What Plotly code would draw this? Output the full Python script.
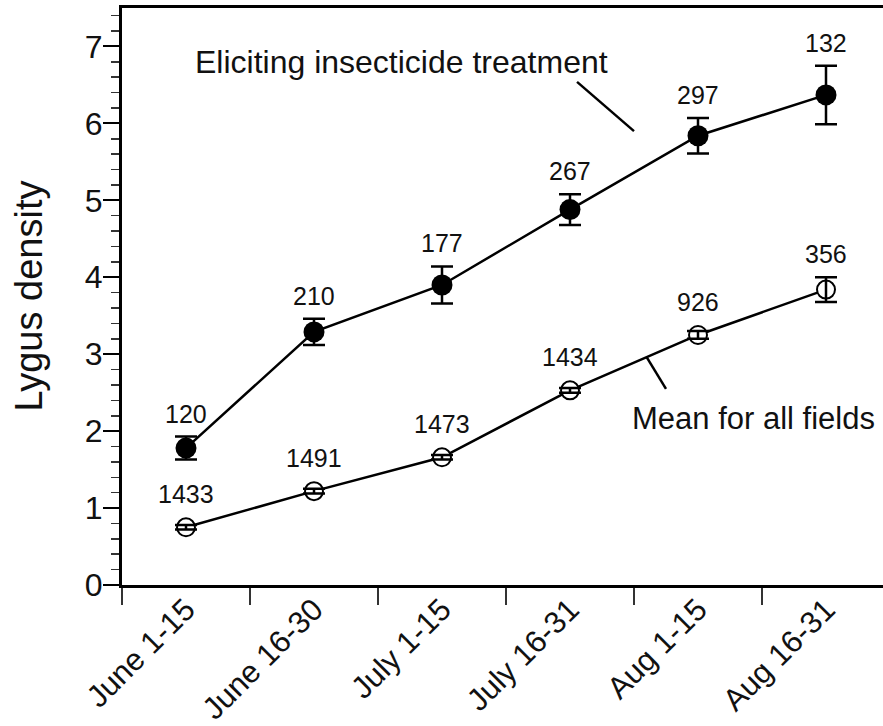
import plotly.graph_objects as go

periods = ["June 1-15", "June 16-30", "July 1-15", "July 16-31", "Aug 1-15", "Aug 16-31"]

elicit_mean = [1.78, 3.29, 3.90, 4.88, 5.84, 6.37]
elicit_err = [0.15, 0.17, 0.24, 0.20, 0.23, 0.38]
elicit_n = ["120", "210", "177", "267", "297", "132"]

all_mean = [0.75, 1.22, 1.66, 2.53, 3.25, 3.84]
all_err = [0.03, 0.03, 0.03, 0.03, 0.05, 0.16]
all_n = ["1433", "1491", "1473", "1434", "926", "356"]

FONT = "Liberation Sans, Arial, Helvetica, sans-serif"
W, H = 883, 726
ML, MR, MT, MB = 122, 0, 8, 141
YMAX = 7.5
px_per_unit = (H - MT - MB) / YMAX

fig = go.Figure()

# lines + markers
fig.add_trace(go.Scatter(
    x=periods, y=elicit_mean, mode="lines+markers",
    line=dict(color="black", width=2.5),
    marker=dict(symbol="circle", size=21, color="black", line=dict(color="black", width=0)),
    showlegend=False, hoverinfo="skip"))
fig.add_trace(go.Scatter(
    x=periods, y=all_mean, mode="lines+markers",
    line=dict(color="black", width=2.5),
    marker=dict(symbol="circle", size=18, color="white", line=dict(color="black", width=2)),
    showlegend=False, hoverinfo="skip"))

# error bars on top
for ys, es in ((elicit_mean, elicit_err), (all_mean, all_err)):
    fig.add_trace(go.Scatter(
        x=periods, y=ys, mode="markers",
        marker=dict(size=1, color="rgba(0,0,0,0)"),
        error_y=dict(type="data", array=es, visible=True, color="black",
                     thickness=2.5, width=11),
        showlegend=False, hoverinfo="skip"))

# sample size labels
for ys, es, ns, rad in ((elicit_mean, elicit_err, elicit_n, 10.5), (all_mean, all_err, all_n, 10)):
    for p, y, e, n in zip(periods, ys, es, ns):
        shift = max(e * px_per_unit, rad) + 23
        fig.add_annotation(x=p, y=y, text=n, showarrow=False, yshift=shift,
                           xanchor="center", yanchor="middle",
                           font=dict(family=FONT, size=25, color="#111"))

# series labels with pointer lines
fig.add_annotation(x=1.68, y=6.80, xref="x", yref="y", text="Eliciting insecticide treatment",
                   showarrow=False, xanchor="center", yanchor="middle",
                   font=dict(family=FONT, size=32, color="#111"))
fig.add_shape(type="line", x0=3.055, y0=6.54, x1=3.5, y1=5.90, xref="x", yref="y",
              line=dict(color="black", width=2.5))
fig.add_annotation(x=4.43, y=2.16, xref="x", yref="y", text="Mean for all fields",
                   showarrow=False, xanchor="center", yanchor="middle",
                   font=dict(family=FONT, size=31, color="#111"))
fig.add_shape(type="line", x0=3.6, y0=2.96, x1=3.75, y1=2.55, xref="x", yref="y",
              line=dict(color="black", width=2.5))

# y axis title
fig.add_annotation(x=0, y=0.5, xref="paper", yref="paper",
                   xshift=-94, text="Lygus density", textangle=-90, showarrow=False,
                   xanchor="center", yanchor="middle",
                   font=dict(family=FONT, size=38, color="#111"))

plot_w = W - ML - MR
fig.update_layout(
    width=W, height=H,
    margin=dict(l=ML, r=MR, t=MT, b=MB, pad=0, autoexpand=False),
    paper_bgcolor="white", plot_bgcolor="white",
    font=dict(family=FONT, color="#111"),
    xaxis=dict(
        type="category", categoryorder="array", categoryarray=periods,
        range=[-0.5, -0.5 + plot_w / 128.0], automargin=False,
        tickson="boundaries", ticks="outside", ticklen=17, tickwidth=2, tickcolor="#333",
        showline=True, linewidth=3, linecolor="black", mirror=True,
        tickangle=-45, tickfont=dict(family=FONT, size=31, color="#111"),
        ticklabelstandoff=-9,
        showgrid=False, zeroline=False),
    yaxis=dict(
        range=[0, YMAX], dtick=1, tick0=0, ticks="outside", ticklen=16, tickwidth=2,
        tickcolor="black", automargin=False,
        minor=dict(dtick=0.2, ticks="outside", ticklen=8, tickwidth=1.5, tickcolor="#333"),
        showline=True, linewidth=3, linecolor="black",
        tickfont=dict(family=FONT, size=32, color="#111"),
        ticklabelstandoff=-6,
        showgrid=False, zeroline=False),
)

fig.write_html("out.html", config={"displayModeBar": False, "staticPlot": True},
               post_script="document.body.style.margin='0';document.body.style.overflow='hidden';")
